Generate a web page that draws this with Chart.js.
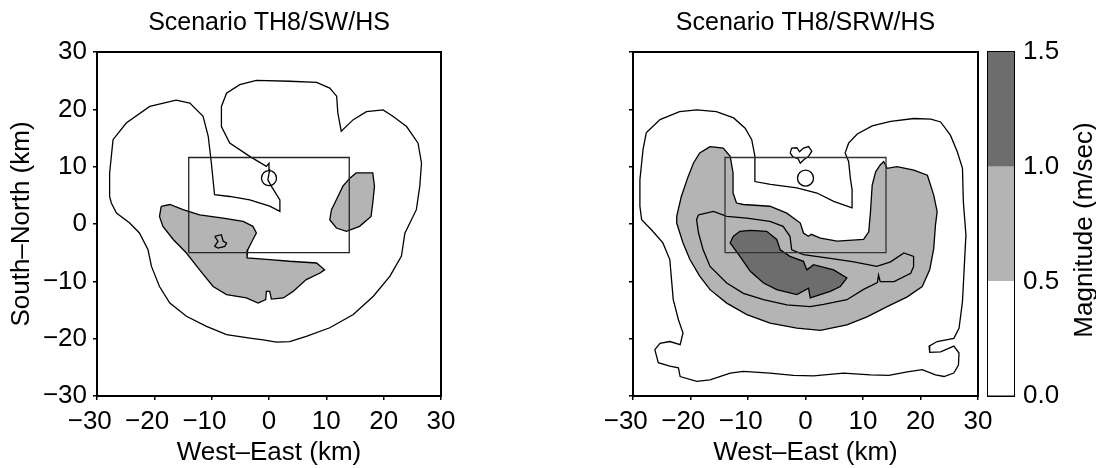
<!DOCTYPE html>
<html>
<head>
<meta charset="utf-8">
<script src="https://cdn.jsdelivr.net/npm/chart.js@4.4.1/dist/chart.umd.min.js"></script>
<style>
  html, body { margin: 0; padding: 0; background: #fff; }
  #wrap { position: relative; width: 1096px; height: 468px; overflow: hidden; }
  canvas { position: absolute; top: 0; }
  #swChart { left: 0; }
  #srwChart { left: 520px; }
  #barChart { left: 960px; }
</style>
</head>
<body>
<div id="wrap">
  <canvas id="swChart" width="470" height="468"></canvas>
  <canvas id="srwChart" width="480" height="468"></canvas>
  <canvas id="barChart" width="136" height="468"></canvas>
</div>
<script>
// Panel titles and axis labels
const titleSW = "Scenario TH8/SW/HS";
const titleSRW = "Scenario TH8/SRW/HS";
const xTitle = "West–East (km)";
const yTitle = "South–North (km)";
const barTitle = "Magnitude (m/sec)";

// Colour bar levels (m/sec) and fills
const levels = [0.0, 0.5, 1.0, 1.5];
const levelColors = ["#ffffff", "#b4b4b4", "#6d6d6d"];

// Domain box and site marker (km)
const domainBox = [[-14, -5], [14, -5], [14, 11.6], [-14, 11.6]];
const siteMarker = [0, 8];

// Scenario SW/HS contours (km): 0.25 line, 0.5 patches, small 0.75 loop
const swOuter = [[-27.8, 8.9], [-27.5, 11.8], [-27.2, 14.7], [-24.9, 17.6], [-20.8, 20.5], [-16.2, 21.6], [-13.8, 21.1],
  [-11.5, 18.8], [-10.6, 15.3], [-10.05, 10.6], [-9.5, 5.1], [-6.85, 4.8], [-3.36, 4.2], [0.12, 3.1], [1.9, 2.2],
  [1.9, 4.2], [0.4, 6.6], [-0.2, 7.7], [0.12, 9.5], [0.0, 10.6], [-0.46, 10.05], [-3.36, 11.8], [-6.85, 14.1],
  [-8.3, 17.0], [-8.3, 20.5], [-7.4, 22.8], [-5.1, 24.3], [-2.2, 25.05], [3.6, 24.9], [8.3, 24.7], [10.6, 23.7],
  [11.8, 22.3], [12.0, 19.4], [12.6, 16.2], [14.7, 18.2], [17.0, 19.6], [19.9, 19.9], [21.6, 18.8], [24.0, 17.0],
  [26.0, 14.1], [26.6, 10.6], [26.3, 6.6], [25.7, 2.5], [23.7, -1.6], [23.1, -5.6], [21.1, -9.1], [18.2, -12.6],
  [14.7, -15.8], [10.6, -18.1], [6.5, -19.6], [3.6, -20.5], [1.3, -20.6], [-1.0, -20.2], [-3.36, -19.9],
  [-7.4, -19.3], [-10.9, -17.85], [-14.4, -16.1], [-17.3, -13.8], [-19.1, -10.9], [-20.5, -7.4], [-21.1, -4.5],
  [-22.6, -1.57], [-24.3, 0.17], [-26.6, 1.9], [-27.5, 3.66], [-27.8, 4.8]];
const swPatchWest = [[-18.8, 3.08], [-17.3, 3.4], [-15.0, 2.5], [-12.1, 1.6], [-8.0, 1.04], [-4.5, 0.46], [-2.8, -0.41],
  [-2.2, -1.57], [-2.8, -2.7], [-3.7, -4.5], [-3.83, -5.9], [0.12, -6.2], [3.6, -6.5], [8.3, -6.8], [9.7, -8.0],
  [8.9, -8.55], [6.5, -9.7], [4.2, -11.75], [2.5, -12.9], [0.42, -13.1], [0.12, -11.75], [-0.46, -11.75],
  [-0.57, -13.2], [-1.9, -13.8], [-3.95, -12.9], [-7.4, -12.3], [-9.75, -10.9], [-12.1, -8.0], [-14.4, -5.06],
  [-16.7, -2.7], [-18.5, -0.41], [-19.1, 1.33]];
const swPatchEast = [[11.75, 4.24], [12.9, 6.6], [14.1, 8.0], [15.2, 8.9], [18.1, 8.9], [18.4, 6.6], [18.1, 3.66],
  [17.8, 1.33], [15.8, -0.41], [13.5, -1.28], [11.75, -0.7], [10.6, 0.75], [10.9, 2.5]];
const swSpot = [[-9.47, -2.15], [-8.3, -1.86], [-8.0, -3.0], [-7.4, -3.3], [-7.7, -3.9], [-8.9, -4.2], [-9.47, -3.9], [-8.9, -3.0]];

// Scenario SRW/HS contours (km): 0.25 line, 0.5 fill, 0.75 line, 1.0 fill
const srwOuter = [[-27.7, 15.9], [-25.3, 18.2], [-21.9, 19.6], [-18.9, 19.9], [-15.5, 19.6], [-12.5, 18.5], [-10.5, 16.7],
  [-9.35, 14.7], [-8.8, 11.8], [-8.8, 7.4], [-6.1, 6.9], [-1.5, 6.3], [2.0, 5.4], [4.9, 3.95], [8.1, 2.8], [8.1, 6.0],
  [7.8, 8.0], [7.5, 10.9], [6.9, 12.4], [7.5, 14.1], [9.0, 15.7], [11.6, 17.1], [14.8, 17.9], [18.85, 18.4],
  [21.8, 18.3], [23.5, 17.8], [25.2, 15.5], [26.4, 12.6], [27.3, 9.7], [27.45, 3.9], [27.9, -1.9], [27.6, -7.7],
  [27.3, -13.55], [26.7, -18.2], [25.8, -19.95], [22.9, -20.5], [21.5, -21.3], [21.6, -22.4], [23.5, -22.3],
  [25.8, -21.3], [26.7, -22.5], [26.6, -24.6], [25.8, -26.0], [24.1, -26.6], [22.6, -26.3], [20.3, -25.4],
  [17.7, -25.8], [14.5, -26.4], [11.3, -26.3], [6.6, -26.0], [1.4, -26.5], [-2.1, -26.4], [-6.2, -26.0],
  [-10.8, -25.7], [-13.1, -26.0], [-16.6, -27.2], [-18.9, -27.45], [-21.8, -26.6], [-22.1, -25.1], [-23.6, -24.8],
  [-25.6, -24.2], [-26.2, -21.9], [-25.3, -20.8], [-23.6, -20.5], [-21.8, -21.05], [-21.3, -19.0], [-22.1, -16.7],
  [-23.0, -13.2], [-23.3, -9.7], [-23.6, -6.2], [-24.8, -3.3], [-26.8, -1.0], [-28.5, 0.75], [-28.8, 3.1],
  [-28.8, 7.7], [-28.25, 13.0]];
const srwHeart = [[-2.67, 12.4], [-2.4, 13.25], [-1.5, 13.3], [-1.04, 12.6], [-0.34, 13.25], [0.53, 13.5], [1.1, 12.7],
  [0.53, 11.8], [-0.3, 11.2], [-0.9, 10.6], [-1.3, 11.4], [-2.2, 11.7]];
const srwMid = [[-16.6, 13.5], [-18.4, 12.4], [-19.5, 10.6], [-20.4, 8.3], [-21.6, 4.8], [-22.4, 1.33], [-22.4, 0.17],
  [-21.3, -3.3], [-20.1, -6.2], [-18.4, -9.1], [-16.6, -11.45], [-13.7, -13.8], [-10.2, -15.8], [-6.16, -17.3],
  [-1.5, -18.15], [2.6, -18.55], [7.2, -17.6], [10.7, -16.2], [14.2, -14.4], [17.7, -12.7], [20.3, -10.9],
  [21.6, -8.0], [22.3, -4.3], [22.6, -0.2], [22.9, 2.15], [22.3, 5.05], [21.2, 8.5], [18.85, 9.4], [15.9, 10.0],
  [14.2, 9.7], [13.6, 10.9], [13.0, 10.3], [12.2, 9.1], [11.6, 6.8], [11.3, 2.15], [11.0, -1.35], [10.1, -2.7],
  [5.5, -3.0], [2.6, -2.45], [1.0, -1.8], [0.5, -2.15], [-0.35, -1.57], [-0.9, 0.17], [-3.25, 1.9], [-6.2, 3.1],
  [-10.8, 3.4], [-12.0, 3.66], [-12.6, 5.4], [-12.6, 8.9], [-13.1, 11.8], [-14.3, 13.25]];
const srwInner = [[-18.6, 1.6], [-16.0, 2.2], [-13.7, 1.33], [-10.2, 1.04], [-6.2, 0.46], [-3.9, -0.41], [-2.7, -2.15],
  [-2.4, -4.5], [-0.35, -5.35], [4.3, -6.0], [8.4, -6.6], [12.4, -7.4], [14.8, -6.6], [17.1, -5.06], [18.8, -5.65],
  [18.8, -7.4], [18.3, -8.6], [15.4, -10.05], [13.0, -10.05], [12.7, -8.9], [12.5, -10.2], [10.1, -11.4],
  [7.2, -13.2], [3.15, -14.0], [0.8, -14.4], [-3.25, -14.1], [-7.3, -13.2], [-10.8, -12.1], [-13.7, -10.3],
  [-16.6, -7.4], [-17.8, -4.5], [-18.6, -1.57], [-18.95, 0.75]];
const srwCore = [[-12.55, -2.15], [-11.4, -1.28], [-9.6, -1.1], [-6.75, -1.28], [-5.0, -2.7], [-4.4, -4.5], [-2.7, -5.65],
  [-0.35, -6.5], [0.24, -8.0], [1.4, -7.1], [4.9, -8.0], [7.2, -9.4], [6.05, -10.9], [4.3, -11.75], [0.82, -12.9],
  [0.53, -11.2], [-1.5, -12.3], [-5.0, -11.45], [-7.3, -10.3], [-9.6, -8.26], [-11.4, -5.65], [-13.1, -3.3]];

Chart.defaults.font.family = "'Liberation Sans', Arial, Helvetica, sans-serif";
Chart.defaults.color = "#000";

const minus = (v) => (v < 0 ? "\u2212" + Math.abs(v) : String(v));

// closed polygon -> dataset
const contour = (pts, fillColor, lineColor) => ({
  data: pts.concat([pts[0]]).map(([x, y]) => ({ x, y })),
  showLine: true,
  tension: 0,
  pointRadius: 0,
  borderColor: lineColor || "#000",
  borderWidth: 1.3,
  fill: fillColor ? "shape" : false,
  backgroundColor: fillColor || "rgba(0,0,0,0)",
});

const marker = (r) => ({
  data: [{ x: siteMarker[0], y: siteMarker[1] }],
  showLine: false,
  pointRadius: r,
  pointBorderWidth: 1.3,
  pointBorderColor: "#000",
  pointBackgroundColor: "rgba(0,0,0,0)",
});

const panelScales = (yWidth, showY) => ({
  x: {
    type: "linear", min: -30, max: 30,
    ticks: {
      stepSize: 10, padding: 6, font: { size: 26 }, maxRotation: 0, minRotation: 0, autoSkip: false,
      callback: (v) => (v < 0 ? minus(v) + "\u2007" : minus(v)),
    },
    grid: { drawOnChartArea: false, tickLength: 4, color: "#000", lineWidth: 1.5 },
    border: { color: "#000", width: 2 },
    title: { display: true, text: xTitle, font: { size: 26 }, padding: { top: 0, bottom: 0 } },
    afterFit: (s) => { s.height = 72; },
  },
  y: {
    type: "linear", min: -30, max: 30,
    ticks: { display: showY, stepSize: 10, padding: 6, font: { size: 26 }, autoSkip: false, callback: (v) => minus(v) },
    grid: { drawOnChartArea: false, tickLength: 4, color: "#000", lineWidth: 1.5 },
    border: { color: "#000", width: 2 },
    title: { display: showY, text: yTitle, font: { size: 26 }, padding: { top: 6, bottom: 0 } },
    afterFit: (s) => { s.width = yWidth; },
  },
  xTop: {
    type: "linear", position: "top", min: -30, max: 30,
    ticks: { display: false },
    grid: { drawOnChartArea: false, drawTicks: false },
    border: { color: "#000", width: 2 },
    afterFit: (s) => { s.height = 0; },
  },
  yRight: {
    type: "linear", position: "right", min: -30, max: 30,
    ticks: { display: false },
    grid: { drawOnChartArea: false, drawTicks: false },
    border: { color: "#000", width: 2 },
    afterFit: (s) => { s.width = 0; },
  },
});

const panelOptions = (title, yWidth, rightPad, showY) => ({
  responsive: false,
  animation: false,
  layout: { padding: { left: 0, right: rightPad, top: 0, bottom: 0 } },
  plugins: {
    legend: { display: false },
    tooltip: { enabled: false },
    filler: { drawTime: "beforeDatasetsDraw" },
    title: { display: true, text: title, fullSize: false, font: { size: 25, weight: "normal" }, padding: { top: 8, bottom: 14 } },
  },
  scales: panelScales(yWidth, showY),
});

new Chart(document.getElementById("swChart"), {
  type: "scatter",
  data: {
    datasets: [
      contour(domainBox, null, "#222"),
      marker(7.5),
      contour(swOuter),
      contour(swSpot),
      contour(swPatchWest, levelColors[1]),
      contour(swPatchEast, levelColors[1]),
    ],
  },
  options: panelOptions(titleSW, 97, 29, true),
});

new Chart(document.getElementById("srwChart"), {
  type: "scatter",
  data: {
    datasets: [
      contour(domainBox, null, "#333"),
      marker(8),
      contour(srwOuter),
      contour(srwHeart),
      contour(srwInner),
      contour(srwCore, levelColors[2]),
      contour(srwMid, levelColors[1]),
    ],
  },
  options: panelOptions(titleSRW, 113, 22, false),
});

// rotated colour bar caption
const barCaption = {
  id: "barCaption",
  afterDraw(chart) {
    const { ctx, chartArea } = chart;
    ctx.save();
    ctx.translate(chart.width - 11, (chartArea.top + chartArea.bottom) / 2 + 6);
    ctx.rotate(-Math.PI / 2);
    ctx.font = "26px 'Liberation Sans', Arial, Helvetica, sans-serif";
    ctx.fillStyle = "#000";
    ctx.textAlign = "center";
    ctx.textBaseline = "middle";
    ctx.fillText(barTitle, 0, 0);
    ctx.restore();
  },
};

new Chart(document.getElementById("barChart"), {
  type: "bar",
  data: {
    labels: [""],
    datasets: levelColors.map((c, i) => ({
      data: [[levels[i], levels[i + 1]]],
      backgroundColor: c,
      borderWidth: 0,
      grouped: false,
      barPercentage: 1,
      categoryPercentage: 1,
    })),
  },
  options: {
    responsive: false,
    animation: false,
    layout: { padding: 0 },
    plugins: { legend: { display: false }, tooltip: { enabled: false } },
    scales: {
      x: {
        ticks: { display: false },
        grid: { drawOnChartArea: false, drawTicks: false },
        border: { color: "#000", width: 2 },
        afterFit: (s) => { s.height = 72; },
      },
      xTop: {
        type: "linear", position: "top",
        ticks: { display: false },
        grid: { drawOnChartArea: false, drawTicks: false },
        border: { color: "#000", width: 2 },
        afterFit: (s) => { s.height = 52; },
      },
      y: {
        min: 0, max: 1.5,
        ticks: { display: false, stepSize: 0.25 },
        grid: { drawOnChartArea: false, tickLength: -4, color: "#000", lineWidth: 1.5 },
        border: { color: "#000", width: 2 },
        afterFit: (s) => { s.width = 28; },
      },
      yRight: {
        type: "linear", position: "right", min: 0, max: 1.5,
        ticks: {
          stepSize: 0.25, padding: 13, font: { size: 26 }, autoSkip: false,
          callback: (v) => (Math.abs(v * 2 - Math.round(v * 2)) < 1e-6 ? v.toFixed(1) : ""),
        },
        grid: { drawOnChartArea: false, tickLength: -4, color: "#000", lineWidth: 1.5 },
        border: { color: "#000", width: 2 },
        afterFit: (s) => { s.width = 82; },
      },
    },
  },
  plugins: [barCaption],
});
</script>
</body>
</html>
